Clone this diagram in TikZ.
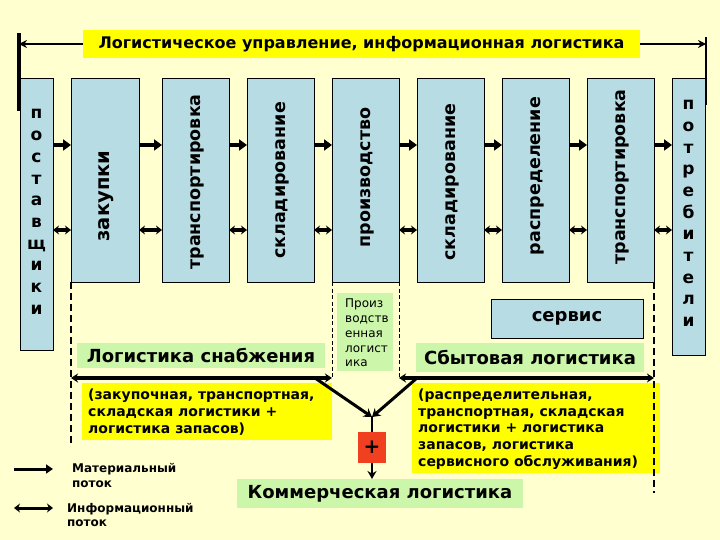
\documentclass[tikz,border=0pt]{standalone}
\usepackage{fontspec}
\setmainfont{DejaVu Sans}
\usetikzlibrary{arrows.meta}
\definecolor{bg}{RGB}{255,255,208}
\definecolor{boxblue}{RGB}{184,220,228}
\definecolor{lgreen}{RGB}{204,246,170}
\definecolor{yel}{RGB}{255,255,0}
\definecolor{redbox}{RGB}{240,64,32}
\tikzset{
  bbox/.style={draw=black, line width=0.9pt, fill=boxblue, inner sep=0pt, outer sep=0pt, anchor=north west},
  gbox/.style={fill=lgreen, inner sep=0pt, outer sep=0pt, anchor=north west},
  ybox/.style={fill=yel, inner sep=0pt, outer sep=0pt, anchor=north west},
  vtext/.style={font=\bfseries\fontsize{17.5}{20}\selectfont, inner sep=0pt},
  mat/.style={line width=4pt, -{Triangle[length=8pt,width=11pt]}},
  info/.style={line width=3pt, {Stealth[length=6pt,width=9pt]}-{Stealth[length=6pt,width=9pt]}},
  longarr/.style={line width=3.2pt, {Stealth[length=7pt,width=9pt]}-{Stealth[length=7pt,width=9pt]}},
  diag/.style={line width=3pt, -{Stealth[length=8pt,width=10pt]}},
  dsh/.style={dash pattern=on 4pt off 2.5pt, line width=1pt},
  dshthick/.style={dash pattern=on 7pt off 4pt, line width=2.2pt},
}
\begin{document}
\begin{tikzpicture}[x=1pt,y=-1pt]
\fill[bg] (0,0) rectangle (720,540);
\useasboundingbox (0,0) rectangle (720,540);

% title
\node[ybox, minimum width=557pt, minimum height=28pt] (title) at (83,30) {};
\node[font=\bfseries\fontsize{16}{18}\selectfont, inner sep=0pt] (titletxt) at (title.center) {Логистическое управление, информационная логистика};
\coordinate (lbarT) at (19,33);
\coordinate (lbarB) at (19,111);
\coordinate (rbarT) at (706,37);
\coordinate (rbarB) at (706,105);
\draw[line width=3.2pt] (lbarT) -- (lbarB);
\draw[line width=2.8pt] (rbarT) -- (rbarB);
\draw[line width=1.8pt, -{Stealth[length=8pt,width=8pt]}] (title.west |- 0,44) -- (lbarT |- 0,44);
\draw[line width=1.8pt, -{Stealth[length=8pt,width=8pt]}] (title.east |- 0,44) -- (rbarT |- 0,44);

% boxes
\node[bbox, minimum width=33pt, minimum height=272pt] (post) at (20,78) {};
\node[bbox, minimum width=68pt, minimum height=204pt] (zak) at (71,78) {};
\node[bbox, minimum width=67pt, minimum height=204pt] (tr1) at (162,78) {};
\node[bbox, minimum width=67pt, minimum height=204pt] (skl1) at (247,78) {};
\node[bbox, minimum width=67pt, minimum height=204pt] (prod) at (332,78) {};
\node[bbox, minimum width=67pt, minimum height=204pt] (skl2) at (417,78) {};
\node[bbox, minimum width=67pt, minimum height=204pt] (ras) at (502,78) {};
\node[bbox, minimum width=67pt, minimum height=204pt] (tr2) at (587,78) {};
\node[bbox, minimum width=33pt, minimum height=277pt] (potr) at (672,78) {};

\node[vtext, align=center, font=\bfseries\fontsize{17}{21.7}\selectfont] (posttxt) at (36.5,212) {п\\о\\с\\т\\а\\в\\щ\\и\\к\\и};
\node[vtext, align=center, font=\bfseries\fontsize{17}{21.7}\selectfont] (potrtxt) at (688.5,213.5) {п\\о\\т\\р\\е\\б\\и\\т\\е\\л\\и};
\node[vtext, rotate=90, font=\bfseries\fontsize{19.5}{22}\selectfont] (zaktxt) at (106,196) {закупки};
\node[vtext, rotate=90] (tr1txt) at (197,182) {транспортировка};
\node[vtext, rotate=90] (skl1txt) at (282,180.5) {складирование};
\node[vtext, rotate=90] (prodtxt) at (367,177.5) {производство};
\node[vtext, rotate=90] (skl2txt) at (452,182) {складирование};
\node[vtext, rotate=90] (rastxt) at (537,176) {распределение};
\node[vtext, rotate=90] (tr2txt) at (622,177) {транспортировка};

% flow arrows between boxes
\coordinate (ym) at (0,145);
\coordinate (yi) at (0,230);
\foreach \a/\b in {post/zak, zak/tr1, tr1/skl1, skl1/prod, prod/skl2, skl2/ras, ras/tr2, tr2/potr}{
  \draw[mat] (\a.east |- ym) -- (\b.west |- ym);
  \draw[info] (\a.east |- yi) -- (\b.west |- yi);
}

% lower section
\node[gbox, minimum width=248pt, minimum height=25pt] (snab) at (77,343) {};
\node[font=\bfseries\fontsize{18}{20}\selectfont, inner sep=0pt] at (snab.center) {Логистика снабжения};
\node[ybox, minimum width=250pt, minimum height=57pt] (snaby) at (82,383) {};
\node[anchor=west, align=left, inner sep=0pt, font=\bfseries\fontsize{14}{17}\selectfont] (snabytxt) at (88,412) {(закупочная, транспортная,\\складская логистики +\\логистика запасов)};

\node[gbox, minimum width=56pt, minimum height=78pt] (prodg) at (337,293) {};
\node[anchor=west, align=left, inner sep=0pt, font=\fontsize{12}{14.8}\selectfont] (prodgtxt) at (345,333) {Произ\\водств\\енная\\логист\\ика};

\node[bbox, minimum width=152pt, minimum height=39pt] (serv) at (491,299) {};
\node[font=\bfseries\fontsize{18}{20}\selectfont, inner sep=0pt] at (serv.center) {сервис};

\node[gbox, minimum width=228pt, minimum height=29pt] (sbyt) at (416,343) {};
\node[font=\bfseries\fontsize{18}{20}\selectfont, inner sep=0pt] at (sbyt.center) {Сбытовая логистика};
\node[ybox, minimum width=248pt, minimum height=90pt] (sbyty) at (412,383) {};
\node[anchor=west, align=left, inner sep=0pt, font=\bfseries\fontsize{14}{16.6}\selectfont] (sbytytxt) at (418,429) {(распределительная,\\транспортная, складская\\логистики + логистика\\запасов, логистика\\сервисного обслуживания)};

\node[gbox, minimum width=286pt, minimum height=29pt] (comm) at (237,479) {};
\node[font=\bfseries\fontsize{18}{20}\selectfont, inner sep=0pt] at (comm.center) {Коммерческая логистика};

\node[fill=redbox, minimum width=28pt, minimum height=31pt, inner sep=0pt, outer sep=0pt, anchor=north west, font=\bfseries\fontsize{20}{22}\selectfont] (plus) at (358,432) {+};

% dashed lines
\coordinate (dl1) at (71,445);
\coordinate (dr1) at (654,493);
\draw[dshthick] (zak.south west) -- (dl1);
\draw[dsh] (prod.south west) -- (332,378);
\draw[dsh] (prod.south east) -- (399,378);
\draw[dshthick] (tr2.south east) -- (dr1);

% long arrows
\coordinate (la1) at (71,378);
\coordinate (la2) at (332,378);
\coordinate (ra1) at (399,378);
\coordinate (ra2) at (654,378);
\draw[longarr] (la1) -- (la2);
\draw[longarr] (ra1) -- (ra2);

\coordinate (join) at (372,417);
\coordinate (dA) at (315,378);
\coordinate (dB) at (417,378);
\draw[diag] (dA) -- (join);
\draw[diag] (dB) -- (join);
\draw[line width=2.8pt] (join) -- (plus.north -| join);
\draw[line width=2.8pt, -{Stealth[length=8pt,width=9pt]}] (plus.south -| join) -- (comm.north -| join);

% legend
\coordinate (lm1) at (14,469);
\coordinate (lm2) at (53,469);
\coordinate (li1) at (14,508);
\coordinate (li2) at (53,508);
\draw[line width=3pt, -{Triangle[length=7pt,width=9pt]}] (lm1) -- (lm2);
\draw[line width=3pt, {Stealth[length=6pt,width=9pt]}-{Stealth[length=6pt,width=9pt]}] (li1) -- (li2);
\node[anchor=west, align=left, inner sep=0pt, font=\bfseries\fontsize{12}{15}\selectfont] (lmt) at (72,475.5) {Материальный\\поток};
\node[anchor=west, align=left, inner sep=0pt, font=\bfseries\fontsize{12}{14}\selectfont] (lit) at (67,515) {Информационный\\поток};
\end{tikzpicture}
\end{document}
